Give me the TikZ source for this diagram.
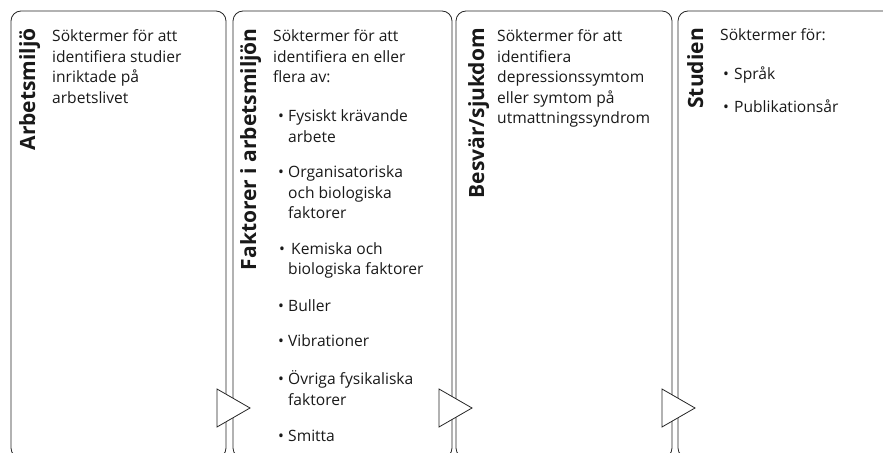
\documentclass[tikz,border=0pt]{standalone}
\usepackage{fontspec}
\setmainfont{Open Sans}
\newcommand{\lns}[1]{\begin{tabular}[t]{@{}l@{}}#1\end{tabular}}
\begin{document}
\begin{tikzpicture}[x=1bp,y=-1bp,
  panel/.style={draw=black!85, line width=0.8bp, rounded corners=10bp},
  ttl/.style={font=\fontsize{21bp}{25bp}\selectfont\bfseries, text=black!90, rotate=90, anchor=base east, inner sep=0},
  body/.style={font=\fontsize{15.6bp}{20.5bp}\selectfont, text=black!90, anchor=base west, inner sep=0},
  tri/.style={draw=black!85, fill=white, line width=0.8bp, line join=miter}]
\useasboundingbox (0,0) rectangle (883,453);
\clip (0,0) rectangle (883,453);
% panels
\draw[panel] (11,11) rectangle (226,458);
\draw[panel] (233,11) rectangle (452,458);
\draw[panel] (456,11) rectangle (672,458);
\draw[panel] (678,11) rectangle (900,458);
% arrows between panels
\draw[tri] (217,389) -- (250,408) -- (217,427) -- cycle;
\draw[tri] (439,389) -- (472,408) -- (439,427) -- cycle;
\draw[tri] (662,389) -- (695,408) -- (662,427) -- cycle;
% titles
\node[ttl] (t1) at (35,28) {Arbetsmiljö};
\node[ttl] (t2) at (256,28) {Faktorer i arbetsmiljön};
\node[ttl] (t3) at (484,28) {Besvär/sjukdom};
\node[ttl] (t4) at (703,28) {Studien};
% panel 1
\node[body] (a1) at (52,42) {\lns{Söktermer för att\\identifiera studier\\inriktade på\\arbetslivet}};
% panel 2
\node[body] (b0) at (273,42) {\lns{Söktermer för att\\identifiera en eller\\flera av:}};
\node[body] (b1d) at (278,122) {•};
\node[body] (b1) at (288,122) {\lns{Fysiskt krävande\\arbete}};
\node[body] (b2d) at (278,178) {•};
\node[body] (b2) at (288,178) {\lns{Organisatoriska\\och biologiska\\faktorer}};
\node[body] (b3d) at (279,255) {•};
\node[body] (b3) at (291,255) {Kemiska och};
\node[body] (b3b) at (288,275) {biologiska faktorer};
\node[body] (b4d) at (278,312) {•};
\node[body] (b4) at (288,312) {Buller};
\node[body] (b5d) at (278,347) {•};
\node[body] (b5) at (288,347) {Vibrationer};
\node[body] (b6d) at (278,385) {•};
\node[body] (b6) at (288,385) {\lns{Övriga fysikaliska\\faktorer}};
\node[body] (b7d) at (278,441) {•};
\node[body] (b7) at (288,441) {Smitta};
% panel 3
\node[body] (c1) at (497,42) {\lns{Söktermer för att\\identifiera\\depressionssymtom\\eller symtom på\\utmattningssyndrom}};
% panel 4
\node[body] (d0) at (720,41) {Söktermer för:};
\node[body] (d1d) at (723,80) {•};
\node[body] (d1) at (734,80) {Språk};
\node[body] (d2d) at (723,113) {•};
\node[body] (d2) at (734,113) {Publikationsår};
\end{tikzpicture}
\end{document}
